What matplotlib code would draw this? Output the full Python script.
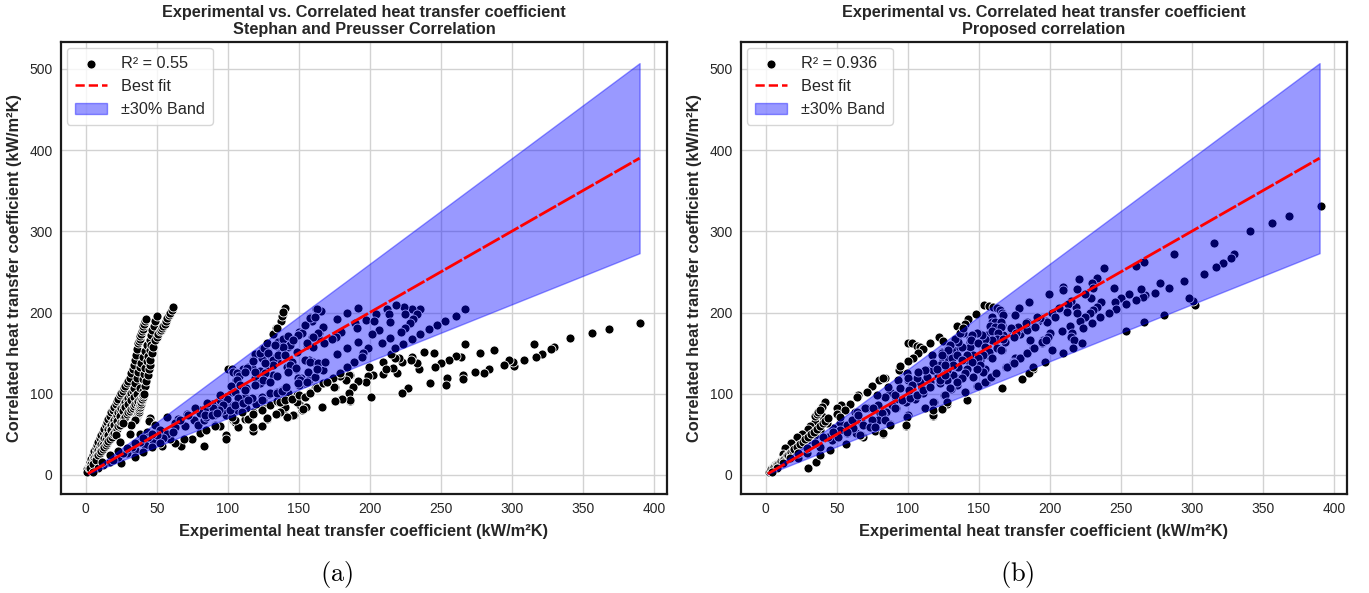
import matplotlib
matplotlib.use("Agg")
import matplotlib.pyplot as plt
from matplotlib.lines import Line2D

plt.rcParams['font.family'] = ['Liberation Sans', 'DejaVu Sans']
plt.rcParams['mathtext.fontset'] = 'cm'

# ---------- panel (a): Stephan and Preusser ----------
a_streak1 = [(1,7),(2,11),(3,16),(4,20),(5,25),(6,29),(7,33),(8,37),(9,41),(10,45),(11,49),(12,53),(13,57),(14,61),(15,65),(16,69),(17,73),(18,77),(19,80),(20,84),(21,87),(22,91),(23,94),(24,98),(25,101),(26,104),(27,107),(28,110),(29,113),(30,116),(31,120),(32,125),(33,130),(34,136),(34.7,141.5),(35.5,148),(36.2,155),(37,162),(37.5,165),(38,168),(38.5,171),(39,174),(39.5,177),(40,180),(40.5,183),(41,186),(41.5,189),(42.2,191.6)]
a_streak2 = [(1,4),(2,8),(3,11),(4,14),(5,18),(6,21),(7,25),(8,28),(9,31),(10,35),(11,38),(12,42),(13,45),(14,49),(15,52),(16,56),(17,59.5),(18,62),(19,65),(20,68),(21,71),(22,74),(23,77),(24,80),(25,83),(26,85),(27,87),(28,90),(29,93),(30,95),(31,98),(32,101),(33,103),(34,107),(35,113),(36,120),(37,127),(38,133),(39,138),(40.6,145.6),(42,153),(43.5,160),(45.3,166),(46,172),(47,178),(48,184),(49,190),(50.4,196)]
a_streak3 = [(3,8),(5,13),(7,19),(8.9,24.6),(10,27),(11,30),(12,32),(13,34),(14,37),(15,39),(16,42),(17,44),(18.3,47),(19,50),(20,52),(21,55),(22,57),(23,60),(24,62),(25,65),(26,67),(27,70),(28,72),(29,75),(30,77),(31,79),(32,81),(33,83),(34,85),(35,87),(36,89),(37,91),(38,93),(39.4,96),(40.5,103),(41.5,110),(42.5,116),(44,123),(44.5,130),(45,136),(45.5,142),(46.5,150),(47.5,158),(48.8,166),(50,170),(51,174),(52,177),(53,179),(54,181),(54.7,183),(55.5,186),(56.5,190),(57.5,193),(58.5,197),(59.5,200),(60.5,203),(61.7,207)]
a_streak_mid = [(6,17),(8,23),(10,30),(12,37),(14,43),(16,49),(18,55),(20,61),(22,67),(24,73),(26,79),(28,84),(30,88),(32,92),(34,96),(36,100),(38,107),(40,118),(41,124),(42,132),(43,140),(44,147),(45,154),(46,160)]
a_streak4 = [(34.7,67.7),(35.2,69.5),(35.5,71),(36,73),(36.5,74.5),(37,76),(37.3,78),(37.5,80),(37.8,82),(38,84),(38.5,86),(39,88),(39.2,90),(39.4,92),(39.7,94),(40,96),(40.5,98),(41,100)]
a_scatter_low = [(57,72),(45,70),(44.7,66),(35,68),(32,62),(26.5,63.6),(21,49),(24,41),(31,51),(38,49),(25,15),(83,36),(67,35.7),(74.6,44),(69,44),(63,39),(59,44),(53.5,36),(80.5,52),(85,55),(91,61.5),(94.6,60),(98.6,49),(99,44),(104,68),(107,59.5),(105,65.6),(112,68.5),(115,69),(118,59.5),(117.6,54),(124,60.7),(128,69),(134.5,75),(140,83),(139,78),(142,71),(146.7,74),(152,80),(155,84),(149,90),(154.5,96),(166.7,84),(175.6,91.5),(180,93),(186,91.5),(185.6,101),(188.5,108),(175.6,108.7),(183,117),(186,123),(174.4,120),(179,123),(161.5,107.5),(158,101.7),(124,85),(118,78),(130,86),(135.7,90),(140.4,84),(146.3,73.9),(141.6,71),(136.9,78),(134.1,75),(128,69.8),(118,59.5),(114.6,68.5),(118,75),(124,80),(136.9,92.3),(142.7,100.5),(148.6,98.5),(151,86.2),(155.2,84),(161.5,106.7),(148.6,90.3),(124,60.3),(107.5,59.5),(91.1,60.3),(105.2,67.7)]
a_scatter_far = [(390.3,186.7),(368.5,180),(356.8,175),(341,168.6),(329.8,158),(327.4,154.7),(321.6,149),(316.9,145.6),(315.7,160.8),(308.6,141),(301.8,134),(301.1,138.7),(298.3,141.5),(294.6,135),(287.5,153.8),(277.7,150.6),(284.2,130),(280.7,125),(274.1,126.4),(265.9,123),(265.9,118),(266.9,161),(264.3,145.6),(260.8,146.5),(256,141.5),(250,137.4),(246,133),(245.5,150.6),(238.2,152),(254.2,119),(253.7,110.8),(242.7,112.8),(227.2,106.7),(223,101),(234.9,130),(233.5,138),(229.5,145.6),(229,141.5),(222.5,138.7),(219,126),(216.6,132),(220.9,144.4),(217.8,143.6),(214.8,148.5),(209.6,138.7),(209.6,124),(211.5,130),(199.5,132.5),(202.5,123),(199,122),(197.1,115),(192,115.7),(188.5,108),(185.6,123),(185.4,100.5),(183,117),(179,122),(175,108.7),(174.4,119.8),(169.7,114),(162,108),(200.9,96.4),(186,92),(180.2,93),(175.5,91.5),(166.6,84),(155,84),(152.8,81),(158,101),(154.4,96.4)]
a_band_mid = [(140.4,205),(139,198),(137.6,190),(134,180.5),(132,174),(100,130.5),(103,130),(162,204),(166,202),(158,195),(159,190),(154.5,184.6),(164,175),(167,182),(159,170),(156,163),(150,176),(149.7,172),(146,166),(141,169),(137,164),(134.5,159),(138,154),(142.7,158),(128.6,152),(124.6,156),(127.5,163),(124,148),(118,141),(119,149),(114,132.5),(111,130),(117,132),(123,128),(128.6,135),(131,143.6),(134.5,141.5),(145,139.5),(141.5,132.5),(148,131),(157,141.5),(160,138.7),(164,132.5),(167,129),(168.5,138.7),(154.5,142),(151.6,119),(157,117),(154.5,113),(150,111),(141,108.7),(138,104.6),(134.5,102.6),(129,99.7),(124,95.6),(132,123),(126,125),(119,119),(123,113),(113,106.7),(106,117),(104,108.7),(108.7,110.8),(98,96),(103,102.6),(94.6,99),(90,82),(85,78),(80.5,80),(77,81),(71,75),(65,68.5),(63,63.6),(70,60),(76,68),(79,61.5),(83,68),(85,72),(90.4,74),(94.6,78),(99,84),(104,86),(108.7,92),(112,96.4),(117,92),(120,88),(113,82),(106,80),(99,74),(103,72),(97,80),(125,92),(134.5,91.5),(137,90),(140,92),(145,94),(150,98),(154.5,96.4),(158,101),(162.7,106.7),(167,113),(170,115),(92,84),(85,84),(88.7,88),(94.6,92)]
a_band_extra = [(104,127),(106.4,125),(108.2,121.8),(113.9,131.3),(112.2,127),(118,140.3),(124,143.6),(122.8,149.8),(125.6,155.9),(128,162.9),(132.2,173.5),(134.5,180.5),(138,196),(139.2,201),(135.7,164),(139.2,168),(142.7,171),(143.9,160),(139.2,158),(133.4,160),(128.7,150.6),(132.2,141.5),(135.7,147.7),(140.4,147.7),(143.9,135.4),(148.1,131.3),(142.7,127),(149.8,119),(156.8,127),(154.5,141.6),(158,139.5),(163.9,137.5),(152.1,174.4),(149.8,172.3),(146.3,166.2),(154.5,184.6),(158,192.8),(162.7,203.9),(161.5,194.9),(163.9,170),(155.7,160),(148.6,151.8),(119.3,127),(125.1,117),(129.8,114.9),(135,121.9),(132.2,135.4),(126.3,137.5),(119.3,110.8),(116.9,94.4),(124,92.3),(129.8,100.5),(134.5,101.4),(138,103.8),(141.1,108.7),(151,116.9),(149.8,112.8),(155.7,114.9),(161.5,121),(106.4,117),(102.1,109.6),(105.2,102.6),(108.7,110.8),(112.2,104.6),(107.5,94.4),(99.3,93.1),(97,86.2),(93.5,80),(89.9,82),(85.2,88.2),(80.5,75.9),(84,73.9),(77,82),(88.8,73.9),(94.6,98.5),(92.3,75.9),(101.7,80),(109.9,78),(105.2,86.2),(111,88.2),(114.6,92.3)]
a_band_high = [(267,204),(260.8,196),(253,190),(247,185),(242,180),(235.4,174),(229.5,167),(223.7,161),(217.8,156),(235.4,204),(230,204),(224.4,207),(218.5,209),(212,204),(213.6,198),(233.5,198),(224.8,198),(230.3,192),(228.4,187),(224.8,181),(221.8,175.6),(214.3,188.7),(206.5,179),(201.4,173.5),(204.2,198),(197.4,190.8),(203.3,189.5),(191.5,206),(184.2,200),(177.2,192),(189.6,186.7),(190.8,181),(179.5,176.4),(176.3,170),(173.2,168),(167.3,181.7),(163.8,175),(159.8,169.4),(167.8,162),(160.3,158),(156,162),(192,164),(183.8,156),(176.7,148.5),(208.4,163),(214.3,169),(199,156),(195.5,150.5),(194.8,145.6),(188.9,139.5),(184.2,132.5),(179,126),(168.5,139.5),(162.6,131)]
a_band_low = [(38,51),(43.4,52.5),(49,61.5),(52,55),(57,51),(63,59.5),(66.4,67.7),(72.3,73.8),(61.7,53),(54.7,45),(47.7,43),(41.8,37),(34.7,30.8),(28.9,26.7),(23,22.6),(17,16.4),(12.4,12.3),(9,8),(5.4,4),(19.5,18.5),(26.5,26.7),(32.4,35),(38,41),(44,47),(50,49),(34.7,39),(40.6,45),(46.5,51),(29,33),(23,29),(17,24.6),(11.3,16.4),(34.7,22.6),(40.6,28.7),(46.5,35),(52,39)]

# ---------- panel (b): proposed correlation ----------
b_high = [(390.8,331),(368.5,319),(356.8,310.6),(341,300),(329.8,272),(327.4,267.5),(321.8,260.5),(316.9,255.6),(316,286),(308.9,248),(302.1,209),(301.2,214.6),(298.3,217.8),(294.8,238.8),(287.5,271.6),(284,230.6),(277.7,236),(273.9,224.4),(267,221.5),(266,218.7),(264.3,229),(266.6,261.7),(260.8,257),(260.8,215.4),(256,222.8),(250,217.4),(253.5,210),(246,212.5),(246.9,204.3),(242,199.8),(245.5,230.6),(238,254.4),(233.5,242),(229.6,236),(220.9,241),(230.3,229.7),(229,217.4),(224.6,222.8),(219.5,229),(209.6,231.8),(209.6,227.7),(199.7,222.8),(185.7,212.5),(178.6,205),(175.6,197),(166,201),(235.9,213.3),(233.5,207),(230.3,203),(235.4,194),(228.4,199),(224.9,195),(229.6,187.5),(221.3,189.5),(218.5,206.4),(214.8,214.6),(213,210),(219,199),(212,201),(206.8,205),(201.4,199),(203.7,194.9),(197.4,189.5),(190.8,192.8),(192,189),(184.2,188),(189.6,183.4),(183.8,180.5),(177.2,181),(172.7,179),(179,174),(167.3,172),(166,183),(168.5,164),(186,165),(195.5,166),(194.3,162),(200.2,174.4),(199,170),(208.4,177.6),(214.3,183.4),(223.7,181),(216,175),(214.8,170),(217,166),(222.5,163),(216.6,156.7),(209.6,149.7),(201.4,153.8),(197,139.5),(188.5,156),(184.2,149.7),(179,144.4),(175.6,143.6),(174.4,138.7),(169.2,132.5),(188.5,131),(166.6,153.8),(253.7,177),(266.2,188),(280.7,197)]
b_above = [(154,209),(157.2,208.4),(159.8,207.2),(162.6,205),(165,203),(166.6,199.8),(167.3,197),(147.9,197.7),(142.7,192),(140.4,185.4),(135,183.8),(122.3,170),(125,165),(116,163),(100,162),(103,163),(106.3,159),(108.7,157),(111,155),(107.5,150),(104,143.6),(100.5,140),(94,129),(94.6,134),(84,119),(80,117),(82.9,119),(74.6,109.5),(71,102.6),(65.3,99),(64,96.4),(59,87),(52.8,86),(50,82),(56,80),(50,74.7),(41.8,89.4),(39.4,84),(39.4,72.6),(34.7,65.6),(31.2,60.7),(30,56.6),(25.4,50.5),(21.8,47),(17.6,39),(13.6,32.8),(12.4,25.8),(5.4,10),(10,16.4),(52.3,63.6),(47.7,57.4),(43,63.6),(38.3,55.4),(34.7,49),(30,43),(25.4,37),(20.7,30.8),(16,24.6),(11.3,18.5),(6.6,12.3)]
b_edge_streak = [(2,4),(3,5),(4,7),(5,8),(6,10),(7,11),(8,13),(9,14),(10,16),(11,17),(12,19),(13,20),(14,22),(15,24),(16,25),(17,27),(18,28),(19,30),(20,32),(22,35),(24,38),(26,41),(28,44),(30,47),(32,50),(34,53),(36,57),(38,60),(40,64),(42,67),(44,70),(35,73),(36,75),(37,78),(38,80)]
b_below = [(30,8),(35.4,15.6),(38.3,24.6),(45.3,30.8),(56.3,38),(68.8,47),(82.9,51),(98.6,60.7),(117.6,73),(118,79),(124,80.8),(128,87.4),(141.5,92.3),(166.7,107.5),(180.3,118),(185.7,125),(188.5,132.5)]
b_band_edge = [(185.7,212.5),(178.6,205),(175.6,197),(159,195),(160,188.7),(166.7,184.6),(158,182.6),(162,176.4),(156,172),(149.8,174.4),(143.9,170),(151,164),(143.9,164),(139.2,174.4),(134.5,168),(128.6,156),(132,154),(137,156),(144,158),(156.8,153.8),(162.7,158),(167.4,172),(173.2,179),(178,180.5),(175.6,172),(183.8,178.5),(189.7,182.6),(186,166),(188.5,156),(183.8,150),(179,143.6),(174.4,138.3),(169.3,132.5),(162,126),(158.5,121),(155,115),(149,109.5),(140.4,102.6),(135,110.8),(130.5,105.4),(125.8,98.5),(118.5,90),(112,83),(100.5,73.8),(87.6,62.8),(77,54),(66.9,49),(63.4,52),(57,52),(46.5,43),(38.3,35),(29,26.7),(23,20.5)]
b_band_mid = [(156.8,147.7),(151,141.5),(154.5,131),(146,121),(140.4,125),(137,119),(132,123),(127.5,129),(121.6,123),(115.7,115),(109.9,106.7),(105,98.5),(97,92),(92,94),(84,96.4),(79.3,86),(71,82),(63,78),(67.6,63.6),(73.5,59.5),(79.3,67.7),(85,78),(92,82),(99,90),(105,94),(111,100.5),(115.7,108.7),(122.8,112.8),(127.5,117),(134.5,133),(141.5,141.5),(146,147.7),(125,141.5),(118,137.4),(113.4,129),(107.5,127),(100.5,117),(93.4,117),(94.6,106.7),(87.6,102.6),(101.6,106.7),(108.7,115),(117,147.7),(124,151.8),(118,129),(122.8,135.4),(128.6,143.6),(113.4,121),(106.3,119),(99.3,125),(91,98.5),(80.5,75.9),(75.8,63.6),(82.9,73.8),(64,69.7),(61.7,59.5),(57,61.5),(52.3,55.4),(51,47),(44,47),(47.7,53),(40.6,47),(34.7,39),(28.9,32.8),(23,26.7),(17,20.5),(12.4,14.4),(7.7,8.2),(4.2,4)]
b_cluster_hi = [(159,194),(159,188.7),(161.4,188.7),(166,188.7),(157.9,183.4),(161.4,182.6),(166,182.6),(159,177.7),(163.8,174.4),(163,168),(159,166),(168.5,164),(167.3,168),(154.4,168),(152,172.3),(148.5,174.4),(145,172.3),(144.3,166),(149.7,162),(154.4,158),(157.4,151.8),(162.6,156),(166,154),(159,143.6),(153.2,147.7),(149.7,143.6),(150.9,135.4),(153.2,127),(148.5,131),(145,139.5),(141.5,147.7),(138,158),(135.6,164),(133.3,168),(136.8,174.4),(139,180.5),(129.7,160),(127.4,154),(123.9,149.7),(130.9,143.6),(134.4,147.7),(138,141.5),(141.5,131),(135.6,133),(132,135.4),(127.4,129),(123.9,123),(146,121),(140.3,125),(138,119),(134.4,115),(129.7,106.7),(140.3,102.6),(149.7,109.5),(154.4,114.9),(158.4,120.2),(162.1,126),(169.6,132.5),(174.8,138.3),(184.2,149.7),(188.9,155.9),(194.3,164),(197.3,166),(186,166),(197.8,188.7),(193.1,192.8),(190.8,194),(177.9,182.6),(172.5,180.5),(183.3,186.7),(176.2,174.4),(174.8,170.3)]
b_cluster_lo = [(128.6,154),(123.9,147.7),(116.9,147.7),(118,137.5),(112.2,129),(107.5,127),(100.5,119),(93.4,117),(94.6,106.7),(86.4,108.7),(84,96.4),(78.2,98.5),(70,82),(64,78),(75.8,82),(81.7,76),(88.7,86),(95.8,92),(101.6,94.4),(106.3,98.5),(111,104.6),(115.7,108.7),(122.8,117),(126.3,123),(120.4,131),(126.3,135.4),(102.8,110.8),(101.2,104.6),(91,82),(79.3,67.7),(74.6,67.7),(68.8,61.6),(73.5,59.5),(60.6,67.7),(65.3,73.9),(77,59.5),(84,67.7),(87.6,61.6),(99.3,71.8),(112.2,82),(118,90.3),(126.3,98.5),(61.7,57.5),(57,53.4),(66.4,49),(52.3,71.8),(82.9,51.3),(98.8,61.6),(118,73.9),(118,80),(124,80.9),(127.5,90.3)]

fit_x = [1.5, 390]
band_lo_factor = 0.7
band_hi_factor = 1.3
x_ticks = [0, 50, 100, 150, 200, 250, 300, 350, 400]
y_ticks = [0, 100, 200, 300, 400, 500]
titles = ['Experimental vs. Correlated heat transfer coefficient\nStephan and Preusser Correlation',
          'Experimental vs. Correlated heat transfer coefficient\nProposed correlation']
r2_labels = ['R² = 0.55', 'R² = 0.936']
captions = ['(a)', '(b)']
xlabel = 'Experimental heat transfer coefficient (kW/m²K)'
ylabel = 'Correlated heat transfer coefficient (kW/m²K)'

series_a = a_streak1 + a_streak2 + a_streak_mid + a_streak3 + a_streak4 + a_scatter_low + a_scatter_far + a_band_mid + a_band_extra + a_band_high + a_band_low
series_b = b_high + b_above + b_edge_streak + b_below + b_band_edge + b_band_mid + b_cluster_hi + b_cluster_lo

W, H = 1369, 593
fig = plt.figure(figsize=(W/100, H/100), dpi=100, facecolor='white')
boxes = [(61, 667), (741, 1347)]
top, bottom = 42, 494
ink = '#262626'

for i, (series, (l, r)) in enumerate(zip([series_a, series_b], boxes)):
    ax = fig.add_axes([l/W, 1-bottom/H, (r-l)/W, (bottom-top)/H])
    xs = [p[0] for p in series]
    ys = [p[1] for p in series]
    ax.grid(True, color='#d2d2d2', lw=1.0, zorder=0)
    ax.set_axisbelow(True)
    ax.scatter(xs, ys, s=42, c='black', edgecolors='white', linewidths=0.6, zorder=2, label=r2_labels[i])
    lo = [v*band_lo_factor for v in fit_x]
    hi = [v*band_hi_factor for v in fit_x]
    band = ax.fill_between(fit_x, lo, hi, color='blue', alpha=0.4, zorder=3, label='±30% Band')
    ax.plot(fit_x, fit_x, color='red', lw=2.0, dashes=(7, 0.8), zorder=4)
    fit_handle = Line2D([], [], color='red', lw=1.8, ls='--', label='Best fit')
    pts = ax.collections[0]
    leg = ax.legend(handles=[pts, fit_handle, band], loc='upper left', fontsize=11.7,
                    frameon=True, framealpha=0.8, edgecolor='#cccccc', labelcolor=ink,
                    bbox_to_anchor=(0.0, 1.0), borderaxespad=0.38, borderpad=0.47, labelspacing=0.5,
                    handletextpad=0.85)
    ax.set_xlim(-17.4, 409.3)
    ax.set_ylim(-23.4, 533)
    ax.set_xticks(x_ticks)
    ax.set_yticks(y_ticks)
    ax.tick_params(length=0, labelsize=10, labelcolor=ink, pad=6)
    for s in ax.spines.values():
        s.set_color('#1a1a1a')
        s.set_linewidth(1.6)
    ax.set_title(titles[i], fontsize=11.7, fontweight='bold', color=ink, pad=5.5, linespacing=1.2)
    ax.set_xlabel(xlabel, fontsize=11.8, fontweight='bold', color=ink, labelpad=5.5)
    ax.set_ylabel(ylabel, fontsize=11.8, fontweight='bold', color=ink, labelpad=5)
    fig.text((l+r)/2/W - 27/W, 1-574/H, r'$\mathrm{' + captions[i] + '}$',
             fontsize=19, ha='center', va='center', color='black')

fig.savefig('out.png', dpi=100)
